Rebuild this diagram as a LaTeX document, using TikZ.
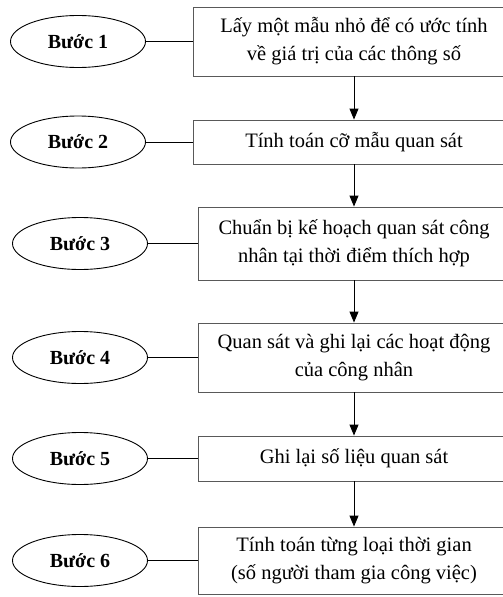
\documentclass[tikz,border=0pt]{standalone}
\usepackage{fontspec}
\setmainfont{Liberation Serif}
\usetikzlibrary{shapes.geometric,arrows.meta,positioning}
\tikzset{
  stepbox/.style={draw=black!65, line width=0.9pt, align=center, inner sep=0pt,
    font=\fontsize{20.5}{28}\selectfont},
  steptag/.style={ellipse, draw, line width=0.9pt, minimum width=135pt,
    minimum height=52pt, inner sep=0pt, font=\fontsize{20}{24}\selectfont\bfseries},
  link/.style={draw, line width=0.9pt},
  flow/.style={draw, line width=1pt, -{Triangle[width=9pt,length=11pt]}},
}

\begin{document}
\begin{tikzpicture}[x=1pt,y=-1pt]
  \useasboundingbox (0,0) rectangle (503,597);
  % steps on the right
  \node[stepbox, minimum width=322pt, minimum height=69pt] (b1) at (354,41.5)
    {Lấy một mẫu nhỏ để có ước tính\\về giá trị của các thông số};
  \node[stepbox, minimum width=322pt, minimum height=44pt] (b2) at (354,142)
    {Tính toán cỡ mẫu quan sát};
  \node[stepbox, minimum width=312pt, minimum height=73pt] (b3) at (354,243.5)
    {Chuẩn bị kế hoạch quan sát công\\nhân tại thời điểm thích hợp};
  \node[stepbox, minimum width=312pt, minimum height=69pt] (b4) at (354,357.5)
    {Quan sát và ghi lại các hoạt động\\của công nhân};
  \node[stepbox, minimum width=312pt, minimum height=45pt] (b5) at (354,458.5)
    {Ghi lại số liệu quan sát};
  \node[stepbox, minimum width=312pt, minimum height=67pt] (b6) at (354,560.5)
    {Tính toán từng loại thời gian\\(số người tham gia công việc)};
  % tags on the left
  \node[steptag] (e1) at (78,41.5) {Bước 1};
  \node[steptag] (e2) at (78,142) {Bước 2};
  \node[steptag] (e3) at (80,243.5) {Bước 3};
  \node[steptag] (e4) at (80,357.5) {Bước 4};
  \node[steptag] (e5) at (80,458.5) {Bước 5};
  \node[steptag] (e6) at (80,560.5) {Bước 6};
  \foreach \i in {1,...,6}
    \draw[link] (e\i) -- (b\i.west);
  \foreach \i/\j in {1/2,2/3,3/4,4/5,5/6}
    \draw[flow] (b\i.south) -- (b\j.north);
\end{tikzpicture}
\end{document}
